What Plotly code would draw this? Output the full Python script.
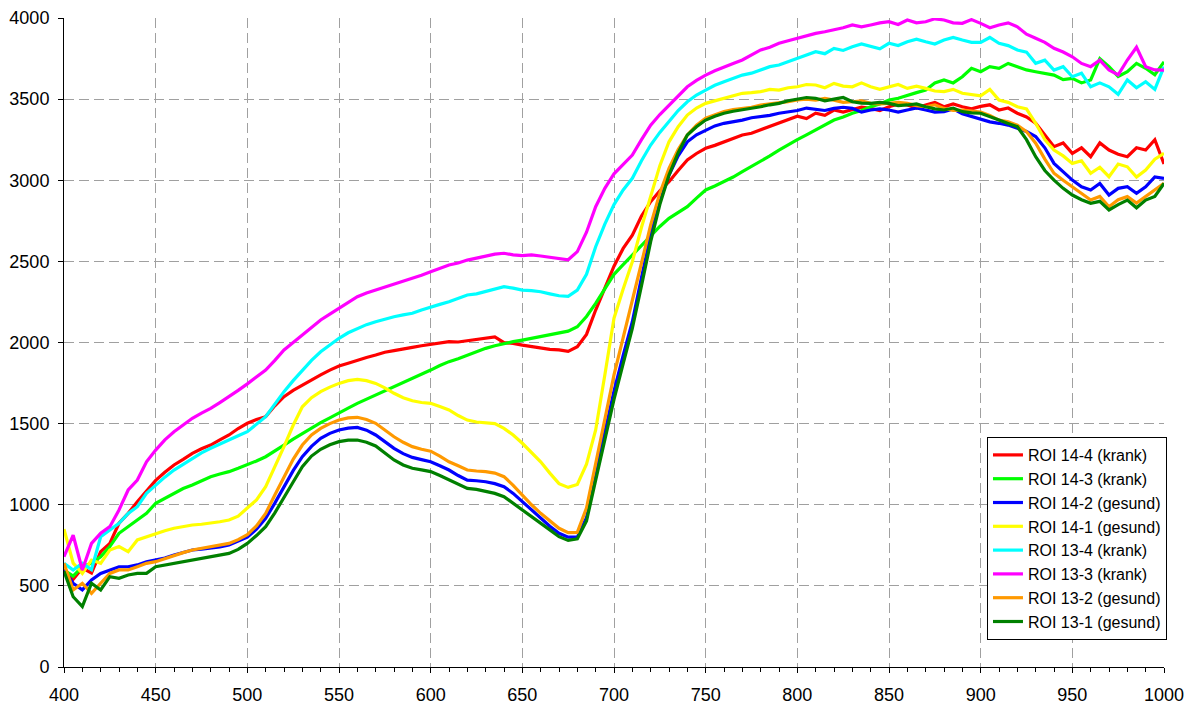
import plotly.graph_objects as go

wavelength = list(range(400, 1001, 5))

roi_14_4 = [
    600, 540, 610, 580, 711, 762, 886, 947, 1019, 1081,
    1150, 1200, 1245, 1280, 1317, 1345, 1368, 1400, 1430, 1470,
    1502, 1525, 1543, 1610, 1666, 1705, 1738, 1772, 1800, 1830,
    1855, 1872, 1892, 1908, 1923, 1940, 1950, 1962, 1970, 1980,
    1987, 1998, 2005, 2003, 2011, 2020, 2026, 2035, 1999, 1995,
    1984, 1975, 1964, 1958, 1954, 1945, 1974, 2050, 2200, 2330,
    2470, 2580, 2662, 2780, 2868, 2935, 2991, 3060, 3125, 3165,
    3197, 3215, 3237, 3262, 3279, 3290, 3310, 3335, 3351, 3375,
    3395, 3380, 3413, 3400, 3433, 3420, 3433, 3450, 3443, 3430,
    3453, 3470, 3464, 3445, 3464, 3480, 3453, 3470, 3453, 3440,
    3455, 3465, 3433, 3445, 3413, 3390, 3351, 3280, 3207, 3230,
    3166, 3200, 3145, 3230, 3186, 3160, 3145, 3200, 3186, 3250,
    3100]

roi_14_3 = [
    598, 560, 618, 640, 680, 742, 824, 865, 906, 947,
    1009, 1040, 1070, 1100, 1122, 1150, 1173, 1190, 1204, 1225,
    1245, 1270, 1296, 1330, 1368, 1405, 1440, 1475, 1506, 1535,
    1563, 1595, 1625, 1650, 1676, 1700, 1727, 1755, 1779, 1805,
    1830, 1858, 1882, 1900, 1923, 1945, 1964, 1980, 1995, 2005,
    2015, 2025, 2036, 2045, 2057, 2070, 2097, 2160, 2241, 2330,
    2420, 2480, 2539, 2600, 2662, 2715, 2765, 2800, 2837, 2890,
    2940, 2965, 2991, 3020, 3053, 3085, 3114, 3150, 3186, 3220,
    3250, 3280, 3310, 3340, 3371, 3390, 3413, 3430, 3453, 3470,
    3494, 3505, 3525, 3540, 3556, 3600, 3618, 3600, 3638, 3690,
    3669, 3700, 3690, 3720, 3700, 3680, 3669, 3660, 3648, 3620,
    3628, 3600, 3618, 3750, 3700, 3640, 3669, 3720, 3690, 3650,
    3730]

roi_14_2 = [
    598, 516, 475, 536, 577, 598, 618, 618, 629, 649,
    659, 672, 690, 705, 721, 726, 731, 740, 752, 775,
    800, 850, 916, 1010, 1111, 1210, 1296, 1360, 1409, 1440,
    1461, 1472, 1477, 1460, 1430, 1390, 1348, 1315, 1292, 1278,
    1265, 1240, 1214, 1180, 1152, 1148, 1142, 1130, 1111, 1070,
    1019, 970, 916, 868, 824, 800, 800, 920, 1194, 1440,
    1700, 1920, 2128, 2400, 2662, 2870, 3032, 3150, 3237, 3280,
    3310, 3335, 3351, 3360, 3371, 3385, 3392, 3400, 3413, 3420,
    3430, 3445, 3437, 3430, 3443, 3450, 3443, 3420, 3433, 3440,
    3433, 3420, 3433, 3445, 3433, 3420, 3423, 3440, 3410, 3392,
    3375, 3360, 3351, 3340, 3320, 3300, 3269, 3200, 3104, 3050,
    3001, 2960, 2940, 2980, 2909, 2950, 2960, 2920, 2960, 3020,
    3012]

roi_14_1 = [
    850, 640, 577, 659, 639, 721, 742, 711, 783, 803,
    824, 840, 855, 865, 875, 880, 886, 895, 906, 930,
    980, 1030, 1111, 1230, 1358, 1490, 1604, 1660, 1697, 1725,
    1748, 1765, 1773, 1765, 1748, 1720, 1687, 1660, 1641, 1630,
    1625, 1605, 1584, 1550, 1522, 1510, 1506, 1500, 1471, 1430,
    1379, 1325, 1265, 1195, 1130, 1107, 1125, 1250, 1461, 1800,
    2150, 2330, 2498, 2710, 2909, 3090, 3237, 3330, 3402, 3445,
    3474, 3490, 3505, 3520, 3536, 3540, 3546, 3560, 3556, 3570,
    3576, 3590, 3587, 3570, 3597, 3580, 3576, 3600, 3576, 3560,
    3576, 3590, 3566, 3580, 3566, 3550, 3546, 3560, 3536, 3530,
    3520, 3560, 3494, 3480, 3453, 3440, 3351, 3250, 3186, 3150,
    3104, 3120, 3043, 3080, 3022, 3100, 3083, 3020, 3063, 3130,
    3166]

roi_13_4 = [
    639, 598, 639, 600, 803, 844, 886, 947, 988, 1070,
    1122, 1170, 1214, 1250, 1286, 1320, 1348, 1375, 1399, 1425,
    1450, 1495, 1543, 1620, 1697, 1765, 1830, 1890, 1943, 1985,
    2026, 2060, 2087, 2110, 2128, 2145, 2159, 2170, 2180, 2200,
    2215, 2235, 2251, 2270, 2293, 2300, 2313, 2330, 2344, 2335,
    2323, 2320, 2313, 2300, 2288, 2285, 2323, 2420, 2590, 2730,
    2850, 2940, 3012, 3120, 3217, 3295, 3361, 3430, 3484, 3525,
    3556, 3585, 3607, 3630, 3648, 3660, 3679, 3700, 3710, 3730,
    3750, 3770, 3792, 3780, 3813, 3800, 3823, 3840, 3823, 3810,
    3844, 3830, 3854, 3870, 3854, 3840, 3864, 3880, 3864, 3850,
    3850, 3880, 3844, 3830, 3803, 3790, 3721, 3740, 3679, 3700,
    3638, 3660, 3576, 3600, 3576, 3530, 3618, 3570, 3607, 3560,
    3700]

roi_13_3 = [
    680, 813, 598, 762, 824, 865, 968, 1091, 1152, 1265,
    1337, 1400, 1450, 1490, 1533, 1565, 1594, 1630, 1666, 1705,
    1745, 1785, 1830, 1890, 1954, 2000, 2046, 2090, 2139, 2175,
    2211, 2250, 2282, 2305, 2323, 2340, 2360, 2378, 2395, 2415,
    2436, 2458, 2478, 2490, 2508, 2520, 2533, 2545, 2550, 2540,
    2535, 2540, 2533, 2525, 2518, 2510, 2560, 2680, 2837, 2950,
    3040, 3100, 3155, 3250, 3340, 3405, 3464, 3520, 3576, 3615,
    3648, 3675, 3700, 3720, 3741, 3770, 3803, 3820, 3844, 3860,
    3875, 3890, 3905, 3915, 3926, 3940, 3957, 3945, 3957, 3970,
    3977, 3960, 3988, 3970, 3977, 3995, 3988, 3970, 3967, 3990,
    3967, 3940, 3957, 3970, 3946, 3900, 3875, 3850, 3813, 3790,
    3761, 3720, 3700, 3740, 3679, 3650, 3741, 3820, 3700, 3680,
    3679]

roi_13_2 = [
    639, 475, 516, 454, 516, 577, 598, 598, 618, 639,
    649, 668, 690, 705, 721, 732, 742, 750, 762, 785,
    815, 870, 947, 1060, 1173, 1280, 1368, 1430, 1471, 1500,
    1522, 1535, 1539, 1525, 1502, 1460, 1419, 1385, 1358, 1342,
    1330, 1300, 1265, 1240, 1214, 1208, 1204, 1195, 1173, 1120,
    1060, 1000, 947, 900, 855, 828, 830, 980, 1255, 1520,
    1800, 2030, 2251, 2490, 2724, 2920, 3073, 3190, 3279, 3340,
    3382, 3405, 3423, 3435, 3443, 3450, 3464, 3470, 3474, 3485,
    3495, 3500, 3494, 3505, 3494, 3480, 3484, 3490, 3474, 3470,
    3474, 3480, 3474, 3460, 3453, 3465, 3443, 3430, 3433, 3425,
    3420, 3400, 3371, 3360, 3340, 3300, 3228, 3130, 3043, 3000,
    2960, 2920, 2878, 2900, 2837, 2880, 2899, 2860, 2899, 2940,
    2981]

roi_13_1 = [
    590, 433, 372, 516, 475, 557, 547, 567, 577, 577,
    618, 628, 639, 650, 659, 670, 680, 690, 700, 725,
    762, 810, 865, 950, 1050, 1140, 1234, 1300, 1342, 1370,
    1389, 1398, 1399, 1385, 1362, 1320, 1276, 1245, 1225, 1215,
    1204, 1180, 1152, 1125, 1101, 1095, 1085, 1070, 1050, 1010,
    968, 928, 886, 845, 803, 780, 790, 900, 1152, 1400,
    1650, 1870, 2087, 2350, 2621, 2850, 3032, 3170, 3279, 3330,
    3371, 3395, 3413, 3425, 3433, 3445, 3453, 3465, 3474, 3490,
    3500, 3510, 3505, 3490, 3500, 3510, 3484, 3475, 3474, 3480,
    3474, 3460, 3464, 3470, 3453, 3440, 3433, 3445, 3423, 3415,
    3413, 3390, 3371, 3350, 3330, 3250, 3145, 3060, 3001, 2950,
    2909, 2880, 2858, 2870, 2817, 2850, 2878, 2830, 2878, 2900,
    2981]

series_names = ["ROI 14-4 (krank)", "ROI 14-3 (krank)", "ROI 14-2 (gesund)",
                "ROI 14-1 (gesund)", "ROI 13-4 (krank)", "ROI 13-3 (krank)",
                "ROI 13-2 (gesund)", "ROI 13-1 (gesund)"]
series_values = [roi_14_4, roi_14_3, roi_14_2, roi_14_1,
                 roi_13_4, roi_13_3, roi_13_2, roi_13_1]
series_colors = ["#FF0000", "#00FF00", "#0000FF", "#FFFF00",
                 "#00FFFF", "#FF00FF", "#FF9900", "#008000"]

x_ticks = list(range(400, 1001, 50))
y_ticks = list(range(0, 4001, 500))

fig = go.Figure()
for name, vals, col in zip(series_names, series_values, series_colors):
    fig.add_trace(go.Scatter(x=wavelength, y=vals, mode="lines", name=name,
                             line=dict(color=col, width=3.2)))

font_family = "Liberation Sans, Arial, sans-serif"
grid_kw = dict(showgrid=True, gridcolor="#A0A0A0", griddash="10px,5px", gridwidth=1)
fig.update_layout(
    width=1192, height=706,
    margin=dict(l=64, r=28, t=18, b=39),
    paper_bgcolor="white", plot_bgcolor="white",
    font=dict(family=font_family, size=18, color="black"),
    showlegend=True,
    legend=dict(x=1.0027, y=0.0416, xanchor="right", yanchor="bottom",
                bgcolor="white", bordercolor="black", borderwidth=1,
                font=dict(family=font_family, size=16, color="black"),
                itemwidth=30, tracegroupgap=0),
    xaxis=dict(range=[400, 1000], tickvals=x_ticks, ticks="outside", ticklen=5,
               tickcolor="black", showline=True, linecolor="black", linewidth=1,
               zeroline=False, automargin=False, ticklabelstandoff=6,
               minor=dict(dtick=10, tick0=400, ticks="outside", ticklen=4,
                          tickcolor="black", showgrid=False),
               **grid_kw),
    yaxis=dict(range=[0, 4000], tickvals=y_ticks, ticks="outside", ticklen=5,
               tickcolor="black", showline=True, linecolor="black", linewidth=1,
               zeroline=False, automargin=False, ticklabelstandoff=5,
               **grid_kw),
)

fig.write_html(
    "out.html",
    config={"displayModeBar": False},
    post_script="document.body.style.margin='0px';document.body.style.overflow='hidden';",
)
